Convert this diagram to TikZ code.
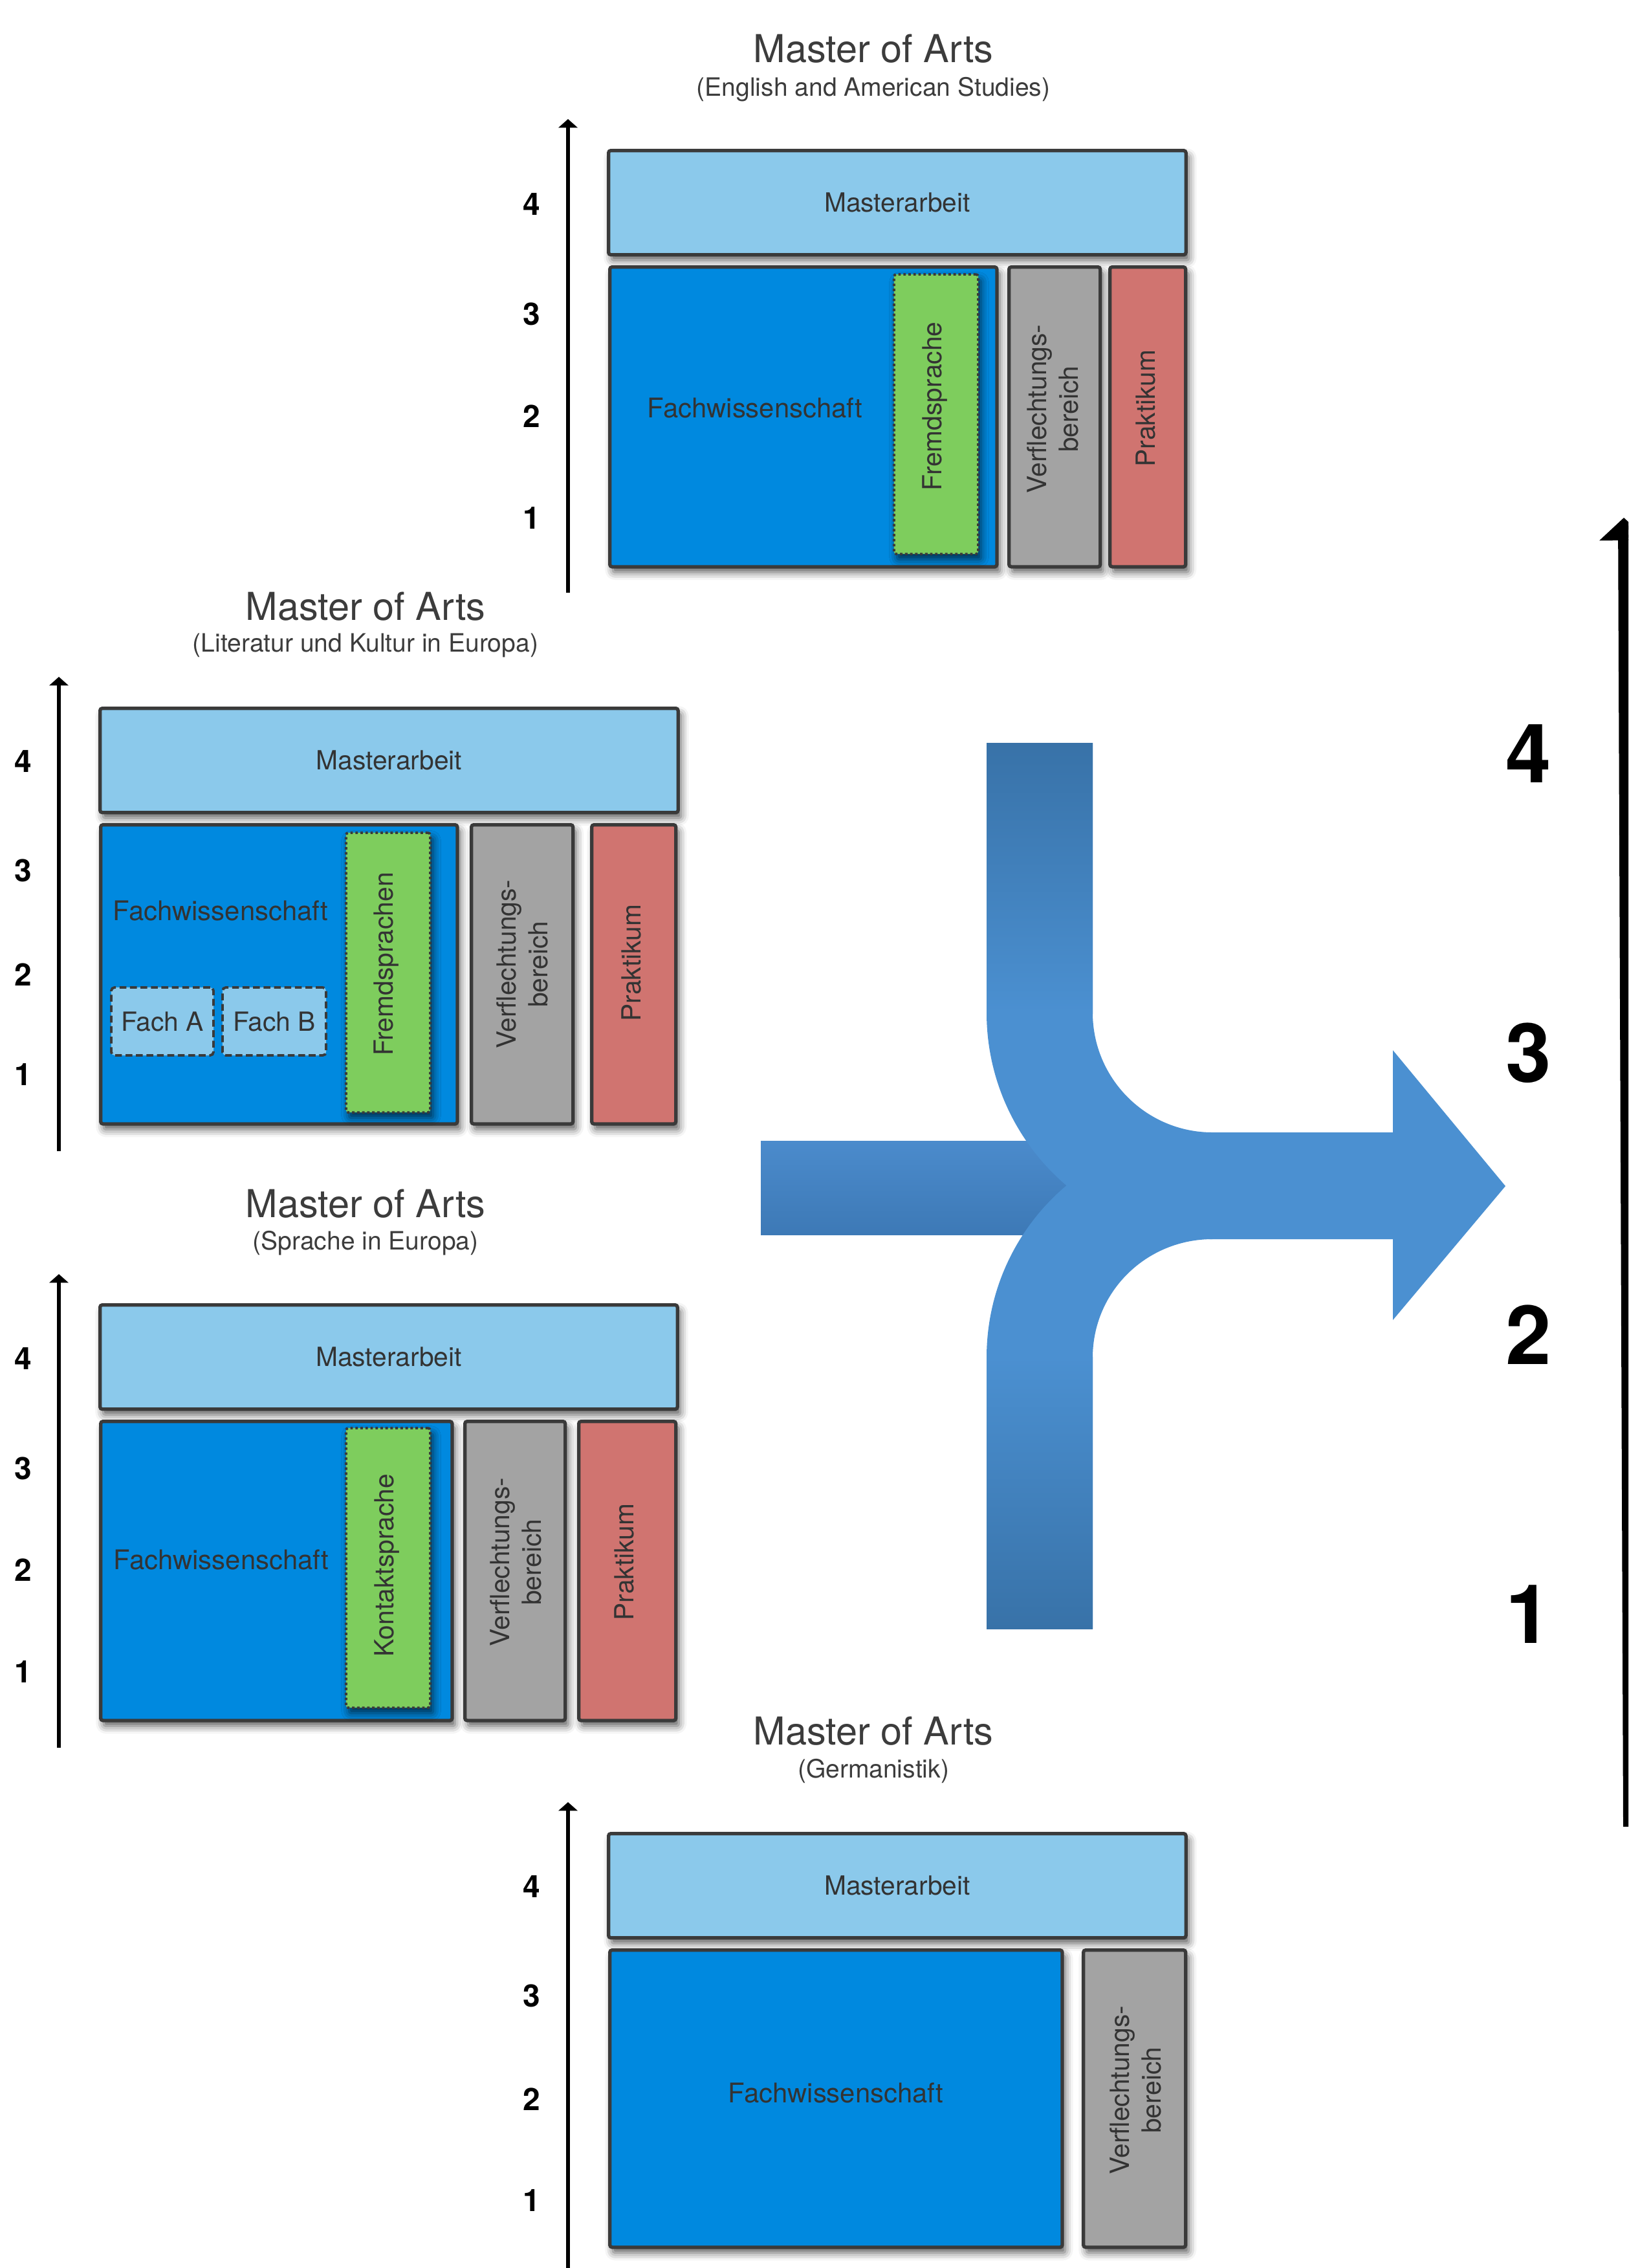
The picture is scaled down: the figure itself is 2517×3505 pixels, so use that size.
\documentclass[tikz,border=0pt]{standalone}
\usepackage{fontspec}
\setmainfont{TeX Gyre Heros}
\usetikzlibrary{arrows.meta,shadows.blur}
\definecolor{macol}{HTML}{8BC9EB}
\definecolor{fachcol}{HTML}{0089DF}
\definecolor{greencol}{HTML}{7ECD5D}
\definecolor{graycol}{HTML}{A3A3A3}
\definecolor{redcol}{HTML}{D07470}
\definecolor{bordc}{HTML}{3A3A3A}
\definecolor{txtc}{HTML}{333333}
\definecolor{titlec}{HTML}{3C3C3C}
\definecolor{arrowcol}{HTML}{4B90D1}
\definecolor{armdark}{HTML}{3872A8}
\definecolor{bandtop}{HTML}{4B8BCC}
\definecolor{bandbot}{HTML}{3D79B6}
\newcommand{\bxfont}{\fontsize{11.6}{13.9}\selectfont}
\newcommand{\fwfont}{\fontsize{11.9}{14}\selectfont}
\begin{document}
\begin{tikzpicture}[x=0.01cm,y=-0.01cm,
  shd/.style={blur shadow={shadow xshift=1.3pt,shadow yshift=-2.4pt,shadow blur radius=3.4pt,shadow opacity=65}},
  boxbase/.style={draw=bordc,line width=1.5pt,rounded corners=1pt,inner sep=0pt,anchor=north west,shd},
  mabox/.style={boxbase,fill=macol,text=txtc,font=\bxfont},
  fachbox/.style={boxbase,fill=fachcol},
  graybox/.style={boxbase,fill=graycol},
  redbox/.style={boxbase,fill=redcol},
  greenbox/.style={draw=bordc,line width=1.1pt,dash pattern=on 1.1pt off 1.1pt,fill=greencol,rounded corners=1pt,inner sep=0pt,anchor=north west,shd},
  subbox/.style={draw=bordc,line width=1.1pt,dash pattern=on 3pt off 1.6pt,fill=macol,rounded corners=1.5pt,inner sep=0pt,anchor=north west,text=txtc,font=\bxfont},
  vlabel/.style={rotate=90,align=center,text=txtc,font=\bxfont,inner sep=0pt},
  hlabel/.style={text=txtc,font=\fwfont,inner sep=0pt},
  mtitle/.style={text=titlec,font=\fontsize{16.9}{20}\selectfont,inner sep=0pt},
  msub/.style={text=titlec,font=\fontsize{11.1}{13}\selectfont,inner sep=0pt},
  numl/.style={font=\bfseries\fontsize{13.6}{16}\selectfont,inner sep=0pt},
  numr/.style={font=\bfseries\fontsize{36}{40}\selectfont,inner sep=0pt},
  yaxis/.style={line width=1.6pt,-{Triangle[width=8.3pt,length=3.8pt]}}
]
\useasboundingbox (0,0) rectangle (2517,3505);
\clip (0,0) rectangle (2517,3505);

% ---------- Block 1: English and American Studies ----------
\node[mtitle] (t1) at (1350,75) {Master of Arts};
\node[msub] (s1) at (1350,138) {(English and American Studies)};
\coordinate (b1ax0) at (878,916);
\coordinate (b1ax1) at (878,184);
\draw[yaxis] (b1ax0) -- (b1ax1);
\node[numl] (b1n4) at (822,316) {4};
\node[numl] (b1n3) at (822,485) {3};
\node[numl] (b1n2) at (822,643) {2};
\node[numl] (b1n1) at (822,801) {1};
\node[mabox,minimum width=8.92cm,minimum height=1.61cm] (b1ma) at (938,230) {Masterarbeit};
\node[fachbox,minimum width=5.98cm,minimum height=4.63cm] (b1fach) at (940,410) {};
\node[greenbox,minimum width=1.30cm,minimum height=4.32cm] (b1gr) at (1380,422) {};
\node[graybox,minimum width=1.41cm,minimum height=4.63cm] (b1vf) at (1557,410) {};
\node[redbox,minimum width=1.17cm,minimum height=4.63cm] (b1pk) at (1713,410) {};
\node[hlabel] (b1fw) at (1167,630) {Fachwissenschaft};
\node[vlabel] (b1grt) at (1445,628) {Fremdsprache};
\node[vlabel] (b1vft) at (1627,632) {Verflechtungs-\\bereich};
\node[vlabel] (b1pkt) at (1771,631) {Praktikum};

% ---------- Block 2: Literatur und Kultur in Europa ----------
\node[mtitle] (t2) at (565,937) {Master of Arts};
\node[msub] (s2) at (565,998) {(Literatur und Kultur in Europa)};
\coordinate (b2ax0) at (91,1779);
\coordinate (b2ax1) at (91,1046);
\draw[yaxis] (b2ax0) -- (b2ax1);
\node[numl] (b2n4) at (36,1177) {4};
\node[numl] (b2n3) at (36,1345) {3};
\node[numl] (b2n2) at (36,1506) {2};
\node[numl] (b2n1) at (36,1661) {1};
\node[mabox,minimum width=8.93cm,minimum height=1.61cm] (b2ma) at (152,1092) {Masterarbeit};
\node[fachbox,minimum width=5.51cm,minimum height=4.62cm] (b2fach) at (153,1272) {};
\node[greenbox,minimum width=1.30cm,minimum height=4.32cm] (b2gr) at (533,1285) {};
\node[graybox,minimum width=1.57cm,minimum height=4.62cm] (b2vf) at (726,1272) {};
\node[redbox,minimum width=1.30cm,minimum height=4.62cm] (b2pk) at (912,1272) {};
\node[subbox,minimum width=1.58cm,minimum height=1.05cm] (b2fa) at (170,1524) {Fach A};
\node[subbox,minimum width=1.60cm,minimum height=1.05cm] (b2fb) at (342,1524) {Fach B};
\node[hlabel] (b2fw) at (341,1407) {Fachwissenschaft};
\node[vlabel] (b2grt) at (597,1490) {Fremdsprachen};
\node[vlabel] (b2vft) at (807,1490) {Verflechtungs-\\bereich};
\node[vlabel] (b2pkt) at (976,1488) {Praktikum};

% ---------- Block 3: Sprache in Europa ----------
\node[mtitle] (t3) at (565,1860) {Master of Arts};
\node[msub] (s3) at (565,1921) {(Sprache in Europa)};
\coordinate (b3ax0) at (91,2701);
\coordinate (b3ax1) at (91,1969);
\draw[yaxis] (b3ax0) -- (b3ax1);
\node[numl] (b3n4) at (36,2100) {4};
\node[numl] (b3n3) at (36,2269) {3};
\node[numl] (b3n2) at (36,2426) {2};
\node[numl] (b3n1) at (36,2584) {1};
\node[mabox,minimum width=8.92cm,minimum height=1.61cm] (b3ma) at (152,2014) {Masterarbeit};
\node[fachbox,minimum width=5.43cm,minimum height=4.62cm] (b3fach) at (153,2194) {};
\node[greenbox,minimum width=1.30cm,minimum height=4.32cm] (b3gr) at (533,2205) {};
\node[graybox,minimum width=1.55cm,minimum height=4.62cm] (b3vf) at (716,2194) {};
\node[redbox,minimum width=1.50cm,minimum height=4.62cm] (b3pk) at (892,2194) {};
\node[hlabel] (b3fw) at (342,2410) {Fachwissenschaft};
\node[vlabel] (b3grt) at (598,2419) {Kontaktsprache};
\node[vlabel] (b3vft) at (797,2414) {Verflechtungs-\\bereich};
\node[vlabel] (b3pkt) at (965,2414) {Praktikum};

% ---------- Block 4: Germanistik ----------
\node[mtitle] (t4) at (1350,2675) {Master of Arts};
\node[msub] (s4) at (1350,2737) {(Germanistik)};
\coordinate (b4ax0) at (878,3520);
\coordinate (b4ax1) at (878,2785);
\draw[yaxis] (b4ax0) -- (b4ax1);
\node[numl] (b4n4) at (822,2916) {4};
\node[numl] (b4n3) at (822,3084) {3};
\node[numl] (b4n2) at (822,3244) {2};
\node[numl] (b4n1) at (822,3401) {1};
\node[mabox,minimum width=8.92cm,minimum height=1.61cm] (b4ma) at (938,2831) {Masterarbeit};
\node[fachbox,minimum width=6.99cm,minimum height=4.59cm] (b4fach) at (940,3011) {};
\node[graybox,minimum width=1.58cm,minimum height=4.59cm] (b4vf) at (1672,3011) {};
\node[hlabel] (b4fw) at (1292,3234) {Fachwissenschaft};
\node[vlabel] (b4vft) at (1755,3230) {Verflechtungs-\\bereich};

% ---------- Merging arrow ----------
% left band (bottom layer)
\shade[top color=bandtop,bottom color=bandbot] (1176,1763) rectangle (1700,1908);
% lower arm
\fill[arrowcol] (1525,2517) -- (1689,2517) -- (1689,2098)
  .. controls (1689,1996) and (1772,1915) .. (1874,1915) -- (1874,1750)
  .. controls (1681,1750) and (1525,1905) .. (1525,2098) -- cycle;
\shade[top color=arrowcol,bottom color=armdark] (1525,2097) rectangle (1689,2517);
% upper arm with arrow head
\fill[arrowcol] (1525,1148) -- (1689,1148) -- (1689,1565)
  .. controls (1689,1667) and (1772,1750) .. (1874,1750) -- (2153,1750)
  -- (2153,1623) -- (2327,1833) -- (2153,2040) -- (2153,1915) -- (1874,1915)
  .. controls (1681,1915) and (1525,1758) .. (1525,1565) -- cycle;
\shade[top color=armdark,bottom color=arrowcol] (1525,1148) rectangle (1689,1566);

% ---------- Right axis ----------
\coordinate (rax0) at (2518,2823);
\coordinate (rax1) at (2510,800);
\draw[line width=5.1pt,-{Triangle[width=21pt,length=10pt]}] (rax0) -- (rax1);
\node[numr] (rn4) at (2363,1165) {4};
\node[numr] (rn3) at (2363,1627) {3};
\node[numr] (rn2) at (2363,2063) {2};
\node[numr] (rn1) at (2363,2495) {1};
\end{tikzpicture}
\end{document}
